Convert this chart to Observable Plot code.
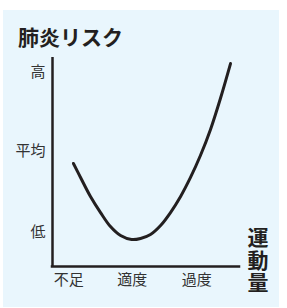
<!DOCTYPE html>
<html>
<head>
<meta charset="utf-8">
<script src="https://cdn.jsdelivr.net/npm/d3@7"></script>
<script src="https://cdn.jsdelivr.net/npm/@observablehq/plot@0.6"></script>
<style>
  body { margin: 0; background: #ffffff; }
  #wrap { position: relative; width: 287px; height: 308px; font-family: "Noto Sans CJK JP", "Noto Sans", sans-serif; }
  #panel { position: absolute; left: 3px; top: 10px; width: 276px; height: 297px; background: #e9f6fd; }
  #title { position: absolute; left: 18px; top: 26px; font-size: 21px; font-weight: bold; line-height: 1; color: #231f20; white-space: nowrap; }
  #xlabel { position: absolute; left: 247px; top: 227px; font-size: 21px; font-weight: bold; line-height: 1; color: #231f20; writing-mode: vertical-rl; letter-spacing: 1.5px; }
  #chart { position: absolute; left: 0; top: 0; }
</style>
</head>
<body>
<div id="wrap">
  <div id="panel"></div>
  <div id="chart"></div>
  <div id="title"></div>
  <div id="xlabel"></div>
</div>
<script>
const titleText = "肺炎リスク";
const xAxisTitle = "運動量";

// curve: exercise amount (0-100) vs pneumonia risk (0-100)
const exercise = [11.2, 15.0, 20.3, 25.7, 31.0, 36.4, 42.3, 47.1, 52.4, 57.8, 63.1, 68.5, 73.8, 79.1, 84.5, 89.8, 95.2];
const risk     = [49.3, 42.6, 33.5, 25.8, 19.1, 14.8, 12.9, 13.4, 15.3, 19.6, 25.8, 33.5, 42.6, 53.1, 65.6, 80.4, 97.1];

const xTickValues = [8.7, 42.6, 77.2];
const xTickLabels = ["不足", "適度", "過度"];
const yTickValues = [16.3, 55.0, 92.8];
const yTickLabels = ["低", "平均", "高"];

const data = exercise.map((x, i) => ({x, y: risk[i]}));
const ink = "#231f20";

document.getElementById("title").textContent = titleText;
document.getElementById("xlabel").textContent = xAxisTitle;

const chart = Plot.plot({
  width: 287,
  height: 308,
  marginLeft: 52,
  marginRight: 48,
  marginTop: 57,
  marginBottom: 42,
  style: { background: "transparent", fontFamily: "'Noto Sans CJK JP', sans-serif", fontSize: "15px", color: "#333" },
  x: { domain: [0, 100], axis: null },
  y: { domain: [0, 100], axis: null },
  marks: [
    Plot.axisY(yTickValues, { tickSize: 0, tickPadding: 7, tickFormat: (d, i) => yTickLabels[i], fontSize: 15, fill: "#333", label: null }),
    Plot.axisX(xTickValues, { tickSize: 0, tickPadding: 8, tickFormat: (d, i) => xTickLabels[i], fontSize: 15, fill: "#333", label: null }),
    Plot.ruleX([0], { y1: 0, y2: 100, stroke: ink, strokeWidth: 2.5 }),
    Plot.ruleY([0], { x1: 0, x2: 100, stroke: ink, strokeWidth: 2.5, strokeLinecap: "square" }),
    Plot.line(data, { x: "x", y: "y", curve: "catmull-rom", stroke: ink, strokeWidth: 3, strokeLinecap: "round" })
  ]
});
document.getElementById("chart").appendChild(chart);
</script>
</body>
</html>
